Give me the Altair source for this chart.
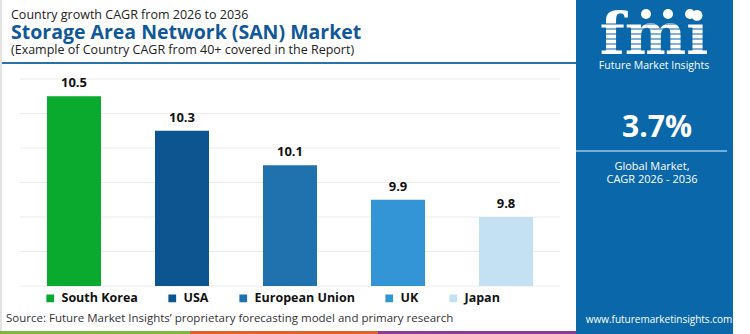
import altair as alt
import pandas as pd

countries = ["South Korea", "USA", "European Union", "UK", "Japan"]
cagr = [10.5, 10.3, 10.1, 9.9, 9.8]
bar_colors = ["#0aaa2e", "#0c5591", "#1f72ad", "#3395d5", "#c3e1f3"]
grid_values = [9.4, 9.6, 9.8, 10.0, 10.2, 10.4, 10.6]

title_top = "Country growth CAGR from 2026 to 2036"
title_main = "Storage Area Network (SAN) Market"
title_sub = "(Example of Country CAGR from 40+ covered in the Report)"
source_text = "Source: Future Market Insights\u2019 proprietary forecasting model and primary research"
global_cagr = "3.7%"
panel_lines = ["Global Market,", "CAGR 2026 - 2036"]
site = "www.futuremarketinsights.com"

df = pd.DataFrame({"country": countries, "cagr": cagr})
df["label"] = [f"{v:.1f}" for v in cagr]

FONT = "Open Sans"
PANEL = "#0a67aa"

base = alt.Chart(df)

ydom = alt.Scale(domain=[9.4, 10.6], zero=False, nice=False)
xs = alt.X("country:N", sort=None, axis=None,
           scale=alt.Scale(paddingInner=0.5, paddingOuter=0.25))

grid = alt.Chart(pd.DataFrame({"g": grid_values})).mark_rule(
    color="#ececec", strokeWidth=1
).encode(y=alt.Y("g:Q", scale=ydom, axis=None), x=alt.value(0), x2=alt.value(540))

bars = base.mark_bar().encode(
    x=xs,
    y=alt.Y("cagr:Q", scale=ydom, axis=None),
    y2=alt.datum(9.4),
    color=alt.Color(
        "country:N",
        sort=None,
        scale=alt.Scale(domain=countries, range=bar_colors),
        legend=alt.Legend(
            title=None, orient="none", direction="horizontal", columns=5,
            legendX=24, legendY=213, symbolType="square", symbolSize=60,
            symbolStrokeWidth=0, labelFont=FONT, labelFontSize=12.5,
            labelFontWeight="bold", labelColor="#111", columnPadding=28,
            labelOffset=5, symbolOpacity=1,
        ),
    ),
)

labels = base.mark_text(
    font=FONT, fontSize=13, fontWeight="bold", color="#111", dy=-9, baseline="alphabetic"
).encode(x=xs, y=alt.Y("cagr:Q", scale=ydom, axis=None), text="label:N")

def txt(s, x, y, size, color="#222", weight="normal", align="left", font=FONT):
    return alt.Chart(pd.DataFrame({"t": [s]})).mark_text(
        font=font, fontSize=size, fontWeight=weight, color=color, align=align,
        baseline="alphabetic"
    ).encode(x=alt.value(x), y=alt.value(y), text="t:N")

def rect(x, x2, y, y2, color, opacity=1.0):
    return alt.Chart(pd.DataFrame({"a": [0]})).mark_rect(color=color, opacity=opacity).encode(
        x=alt.value(x), x2=alt.value(x2), y=alt.value(y), y2=alt.value(y2))

def rule(x, x2, y, y2, color, w):
    return alt.Chart(pd.DataFrame({"a": [0]})).mark_rule(color=color, strokeWidth=w).encode(
        x=alt.value(x), x2=alt.value(x2), y=alt.value(y), y2=alt.value(y2))

# offsets: plot origin at (20, 79)
deco = [
    rule(-19, -19, -79, 255, "#e3e3e3", 2),
    txt(title_top, -9, -60, 12.5, "#222"),
    txt(title_main, -9, -40, 19.5, "#11589a", "bold"),
    txt(title_sub, -9, -25, 12.5, "#222"),
    rule(-18, 556, -16, -16, "#2a72ad", 2),
    txt(source_text, -14, 243, 11.5, "#333"),
    rect(-20, 170, 252, 255, "#7cb83f"),
    rect(170, 358, 252, 255, "#e0622a"),
    rect(358, 556, 252, 255, "#8c3a95"),
    rect(556, 713, -79, 255, PANEL),
    txt("fmi", 634, -25, 58, "white", "bold", "center", "DejaVu Serif"),
]
# stripes over logo
for yy in [-55, -50, -45, -40, -35, -30]:
    deco.append(rule(580, 690, yy, yy, PANEL, 1.2))
circles = alt.Chart(pd.DataFrame({"a": [0, 1, 2]})).mark_point(
    filled=True, color="white", size=100, opacity=1
).encode(x=alt.X("a:Q", scale=alt.Scale(domain=[0, 2], range=[626, 670]), axis=None),
         y=alt.value(-65))
deco += [
    circles,
    txt("Future Market Insights", 634, -10, 10.5, "white", "normal", "center"),
    txt(global_cagr, 637, 58, 30, "white", "bold", "center"),
    rule(556, 707, 72, 72, "#9cc4e4", 1.5),
    txt(panel_lines[0], 632, 91, 11, "white", "normal", "center"),
    txt(panel_lines[1], 632, 104, 11, "white", "normal", "center"),
    txt(site, 639, 244, 10, "white", "normal", "center"),
]

chart = alt.layer(grid, bars, labels, *deco).resolve_scale(x="independent").properties(
    width=540, height=207,
    autosize="none",
    padding={"left": 20, "top": 79, "right": 190, "bottom": 48},
    background="white",
).configure_view(stroke=None)

chart.save("out.html", embed_options={"renderer": "svg", "actions": False})
